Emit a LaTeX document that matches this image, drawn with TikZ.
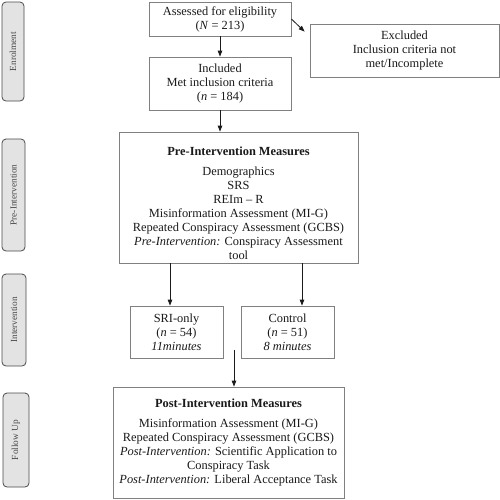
\documentclass[tikz,border=0pt]{standalone}
\usepackage{fontspec}
\setmainfont{Liberation Serif}
\usetikzlibrary{calc,arrows.meta}
\definecolor{boxline}{HTML}{808080}
\definecolor{txt}{HTML}{1A1A1A}
\definecolor{sidefill}{HTML}{E3E3E3}
\definecolor{sideline}{HTML}{4A4A4A}
\begin{document}
\begin{tikzpicture}[x=1pt,y=-1pt,
  box/.style={draw=boxline,line width=0.8pt,fill=white,align=center,text=txt,inner sep=2pt,
    font=\fontsize{12.4}{14}\selectfont},
  side/.style={draw=sideline,line width=0.8pt,fill=sidefill,rounded corners=4pt,rotate=90,
    text=txt!80,font=\fontsize{9.3}{10}\selectfont,inner sep=0pt},
  arr/.style={-{Triangle[length=6pt,width=4.5pt]},line width=0.8pt,draw=txt}]
\useasboundingbox (0,0) rectangle (500,499);
% side labels
\node[side,minimum width=99pt,minimum height=22pt] (s1) at (13,51.5) {Enrolment};
\node[side,minimum width=112pt,minimum height=23pt] (s2) at (13.5,195) {Pre-Intervention};
\node[side,minimum width=92pt,minimum height=24pt] (s3) at (14,320) {Intervention};
\node[side,minimum width=94pt,minimum height=26pt] (s4) at (16,440) {Follow Up};
% boxes
\node[box,minimum width=142pt,minimum height=34pt] (assess) at (220,19)
  {Assessed for eligibility\\(\textit{N} = 213)};
\node[box,minimum width=189pt,minimum height=53pt] (excl) at (404.5,50.5)
  {Excluded\\Inclusion criteria not\\met/Incomplete};
\node[box,minimum width=142pt,minimum height=53pt] (incl) at (220,83.5)
  {Included\\Met inclusion criteria\\(\textit{n} = 184)};
\node[box,minimum width=239pt,minimum height=131pt] (pre) at (238.5,197.5)
  {\rule{0pt}{20pt}\textbf{Pre-Intervention Measures}\\[6pt]
   Demographics\\SRS\\REIm -- R\\Misinformation Assessment (MI-G)\\
   Repeated Conspiracy Assessment (GCBS)\\
   \textit{Pre-Intervention:} Conspiracy Assessment\\tool};
\node[box,minimum width=93pt,minimum height=52pt] (sri) at (176.5,332)
  {SRI-only\\(\textit{n} = 54)\\\textit{11minutes}};
\node[box,minimum width=93pt,minimum height=52pt] (ctrl) at (287.5,332)
  {Control\\(\textit{n} = 51)\\\textit{8 minutes}};
\node[box,minimum width=231pt,minimum height=111pt] (post) at (228.5,442.5)
  {\textbf{Post-Intervention Measures}\\[6pt]
   Misinformation Assessment (MI-G)\\
   Repeated Conspiracy Assessment (GCBS)\\
   \textit{Post-Intervention:} Scientific Application to\\
   Conspiracy Task\\
   \textit{Post-Intervention:} Liberal Acceptance Task};
% connectors
\draw[arr] (assess) -- (incl);
\draw[arr] (assess.east) -- ($(excl.north west)+(-5,8)$);
\draw[arr] (incl) -- (incl.south |- pre.north);
\draw[arr] ([xshift=-6.5pt]sri.north |- pre.south) -- ([xshift=-6.5pt]sri.north);
\draw[arr] ([xshift=14.5pt]ctrl.north |- pre.south) -- ([xshift=14.5pt]ctrl.north);
\coordinate (c1) at (234,350);
\draw[arr] (c1) -- (c1 |- post.north);
\end{tikzpicture}
\end{document}
